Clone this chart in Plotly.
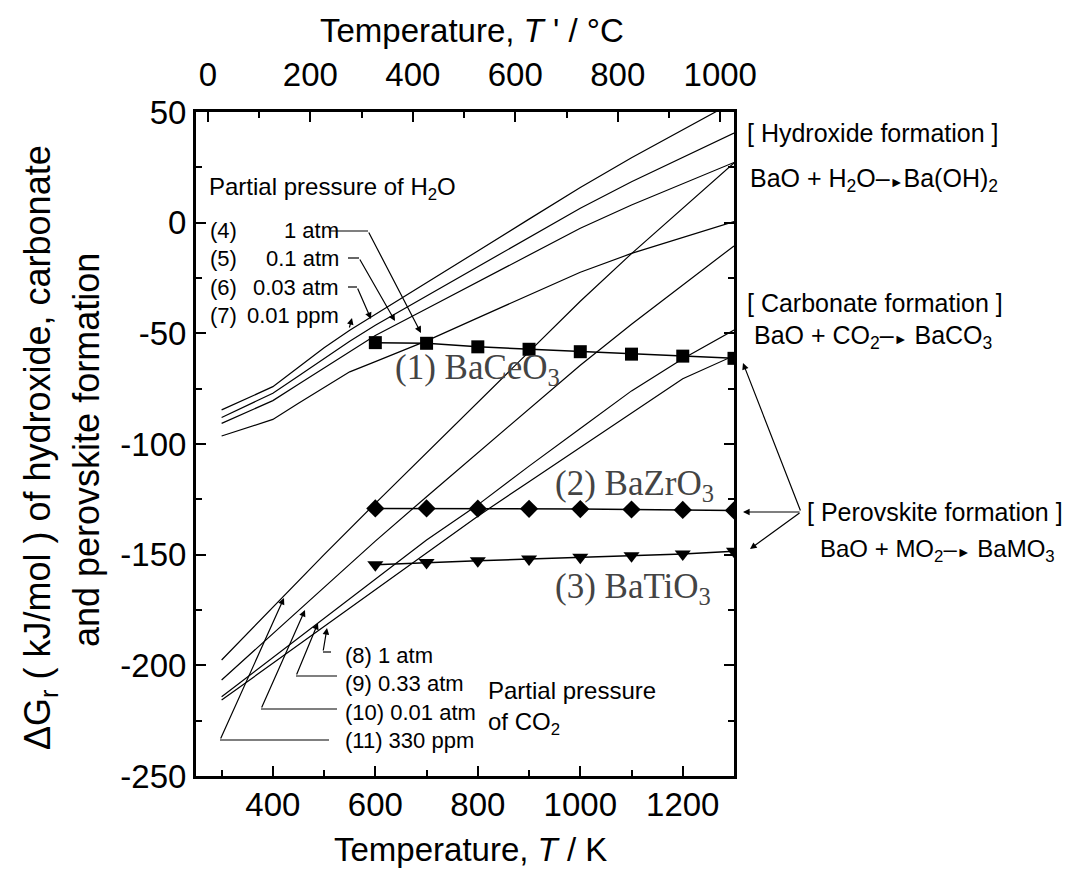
import plotly.graph_objects as go

# ---------------- data ----------------
T_marker = [600, 700, 800, 900, 1000, 1100, 1200, 1300]
G_BaCeO3 = [-54.2, -54.5, -56.1, -57.2, -58.3, -59.4, -60.3, -61.3]
G_BaZrO3 = [-129.1, -129.1, -129.2, -129.3, -129.4, -129.6, -129.8, -130.0]
G_BaTiO3 = [-154.5, -153.5, -152.7, -152.0, -151.2, -150.5, -149.7, -148.5]

T_hyd = [300, 400, 450, 500, 550, 600, 700, 800, 900, 1000, 1100, 1200, 1300]
G_hyd_1atm = [-96.4, -88.9, -81.6, -74.4, -67.4, -62.8, -53.4, -43.0, -32.7, -22.4, -13.9, -6.7, 0.5]
G_hyd_01atm = [-90.7, -80.4, -73.0, -65.6, -58.2, -51.0, -38.9, -26.8, -14.7, -2.5, 8.0, 17.6, 27.2]
G_hyd_003atm = [-88.0, -77.1, -69.3, -61.5, -53.6, -46.3, -33.1, -19.9, -6.7, 6.5, 18.5, 29.5, 40.5]
G_hyd_001ppm = [-84.6, -74.1, -65.3, -56.5, -48.6, -41.5, -27.1, -12.8, 1.6, 15.9, 29.3, 41.9, 54.6]

T_carb = [300, 400, 500, 600, 700, 800, 900, 1000, 1100, 1200, 1300]
G_carb_1atm = [-215.7, -199.0, -182.3, -165.6, -148.9, -132.6, -117.0, -101.4, -85.8, -70.5, -60.1]
G_carb_033atm = [-214.2, -196.5, -178.8, -161.1, -143.4, -127.5, -110.0, -93.0, -76.0, -61.5, -48.5]
G_carb_001atm = [-206.6, -185.7, -164.8, -143.9, -123.8, -104.0, -84.2, -64.4, -45.9, -28.2, -10.5]
G_carb_330ppm = [-197.6, -173.8, -150.0, -126.8, -104.0, -81.2, -58.4, -35.5, -14.0, 6.6, 27.0]

K_range = [250, 1300]
C_offset = 273.15
G_range = [-250, 50]
K_ticks = [400, 600, 800, 1000, 1200]
C_ticks = [0, 200, 400, 600, 800, 1000]
G_ticks = [50, 0, -50, -100, -150, -200, -250]

# ---------------- layout geometry ----------------
W, H = 1074, 871
ML, MR, MT, MB = 196, 340, 112, 95
PW, PH = W - ML - MR, H - MT - MB
FONT = "Arial, Liberation Sans, sans-serif"
SERIF = "Times New Roman, Liberation Serif, serif"


def P(x, y):
    """pixel position -> paper coordinates"""
    return (x - ML) / PW, (H - MB - y) / PH


fig = go.Figure()

line_style = dict(color="black", width=1.2)
for G in [G_hyd_1atm, G_hyd_01atm, G_hyd_003atm, G_hyd_001ppm]:
    fig.add_trace(go.Scatter(x=T_hyd, y=G, mode="lines", line=line_style,
                             showlegend=False, hoverinfo="skip"))
for G in [G_carb_1atm, G_carb_033atm, G_carb_001atm, G_carb_330ppm]:
    fig.add_trace(go.Scatter(x=T_carb, y=G, mode="lines", line=line_style,
                             showlegend=False, hoverinfo="skip"))

for G, sym, sz in [(G_BaCeO3, "square", 13), (G_BaZrO3, "diamond", 14),
                   (G_BaTiO3, "triangle-down", 14)]:
    fig.add_trace(go.Scatter(x=T_marker, y=G, mode="lines+markers",
                             line=dict(color="black", width=1.5),
                             marker=dict(symbol=sym, size=sz, color="black"),
                             showlegend=False, hoverinfo="skip"))

# invisible trace so that the top (Celsius) axis is drawn
fig.add_trace(go.Scatter(x=[K_range[0] - C_offset, K_range[1] - C_offset], y=[-300, -300],
                         xaxis="x2", mode="markers", marker=dict(opacity=0),
                         showlegend=False, hoverinfo="skip"))

ann = []
shapes = []


def text(x, y, s, size, xanchor="left", family=FONT, color="black", yanchor="middle", angle=0):
    px_, py_ = P(x, y)
    ann.append(dict(x=px_, y=py_, xref="paper", yref="paper", text=s, showarrow=False,
                    xanchor=xanchor, yanchor=yanchor, textangle=angle,
                    font=dict(size=size, family=family, color=color)))


def arrow(sx, sy, tx, ty):
    px_, py_ = P(tx, ty)
    ann.append(dict(x=px_, y=py_, xref="paper", yref="paper", text="",
                    showarrow=True, ax=sx - tx, ay=sy - ty, axref="pixel", ayref="pixel",
                    arrowhead=2, arrowsize=1.1, arrowwidth=1.2, arrowcolor="black",
                    standoff=0, startstandoff=0))


def seg(x0, y0, x1, y1):
    a0, b0 = P(x0, y0)
    a1, b1 = P(x1, y1)
    shapes.append(dict(type="line", xref="paper", yref="paper", x0=a0, y0=b0, x1=a1, y1=b1,
                       line=dict(color="black", width=1.2)))


ARROW = "\u2013<span style='font-size:14px'>\u25ba</span>"

# axis titles
text(470, 849, "Temperature, <i>T</i> / K", 33, xanchor="center")
text(472, 30, "Temperature, <i>T</i> ' / \u00b0C", 33, xanchor="center")
text(40, 448, "\u0394G<sub>r</sub> ( kJ/mol ) of hydroxide, carbonate", 36, xanchor="center", angle=-90)
text(86, 450, "and perovskite formation", 36, xanchor="center", angle=-90)

# hydroxide pressure labels
text(207, 188, "Partial pressure of H<sub>2</sub>O", 24)
rows_h = [("(4)", "1 atm", 230), ("(5)", "0.1 atm", 258), ("(6)", "0.03 atm", 287), ("(7)", "0.01 ppm", 315)]
for lab, val, yy in rows_h:
    text(208, yy, lab, 22)
    text(341, yy, val, 22, xanchor="right")
seg(330, 231, 368, 231)
arrow(368, 231, 421, 333)
seg(348, 258, 359, 258)
arrow(359, 258, 395, 321)
seg(348, 287, 357, 287)
arrow(357, 287, 371, 319)
arrow(349, 329, 352, 318)

# carbonate pressure labels
rows_c = [("(8) 1 atm", 655), ("(9) 0.33 atm", 683), ("(10) 0.01 atm", 712), ("(11) 330 ppm", 740)]
for s, yy in rows_c:
    text(343, yy, s, 22)
text(486, 690, "Partial pressure", 24)
text(486, 723, "of CO<sub>2</sub>", 24)
seg(331, 652, 323, 652)
arrow(323, 652, 327, 628)
seg(337, 676, 296, 676)
arrow(296, 676, 318, 623)
seg(337, 709, 261, 709)
arrow(261, 709, 305, 610)
seg(329, 740, 220, 740)
arrow(220, 740, 284, 598)

# perovskite labels (serif, grey)
text(393, 370, "(1) BaCeO<sub>3</sub>", 35, family=SERIF, color="#444444")
text(553, 485, "(2) BaZrO<sub>3</sub>", 35, family=SERIF, color="#444444")
text(553, 588, "(3) BaTiO<sub>3</sub>", 35, family=SERIF, color="#444444")

# right-hand reaction texts
text(745, 133, "[ Hydroxide formation ]", 25)
text(748, 180, "BaO + H<sub>2</sub>O" + ARROW + "Ba(OH)<sub>2</sub>", 25)
text(745, 303, "[ Carbonate formation ]", 25)
text(752, 337, "BaO + CO<sub>2</sub>" + ARROW + " BaCO<sub>3</sub>", 25)
text(805, 512, "[ Perovskite formation ]", 25)
text(818, 550, "BaO + MO<sub>2</sub>" + ARROW + " BaMO<sub>3</sub>", 24)
arrow(801, 512, 743, 363)
arrow(801, 512, 743, 512)
arrow(801, 512, 750, 549)

axis_common = dict(showline=True, linewidth=3, linecolor="black", showgrid=False, zeroline=False,
                   ticks="inside", ticklen=10, tickwidth=2, tickcolor="black",
                   tickfont=dict(size=33, family=FONT, color="black"))

fig.update_layout(
    width=W, height=H,
    margin=dict(l=ML, r=MR, t=MT, b=MB, autoexpand=False),
    paper_bgcolor="white", plot_bgcolor="white",
    showlegend=False,
    xaxis=dict(range=K_range, tickmode="array", tickvals=K_ticks, ticktext=[str(v) for v in K_ticks],
               mirror=False, ticklabelstandoff=-3,
               minor=dict(dtick=100, tick0=0, ticks="inside", ticklen=6, tickwidth=2, tickcolor="black"),
               **axis_common),
    xaxis2=dict(range=[K_range[0] - C_offset, K_range[1] - C_offset], overlaying="x", side="top",
                anchor="y", tickmode="array", tickvals=C_ticks, ticktext=[str(v) for v in C_ticks],
                ticklabelstandoff=10,
                minor=dict(dtick=100, tick0=0, ticks="inside", ticklen=6, tickwidth=2, tickcolor="black"),
                **axis_common),
    yaxis=dict(range=G_range, tickmode="array", tickvals=G_ticks, ticktext=[str(v) for v in G_ticks],
               mirror="ticks", ticklabelstandoff=0,
               minor=dict(dtick=25, tick0=0, ticks="inside", ticklen=6, tickwidth=2, tickcolor="black"),
               **axis_common),
    annotations=ann,
    shapes=shapes,
)

fig.write_html("out.html")
